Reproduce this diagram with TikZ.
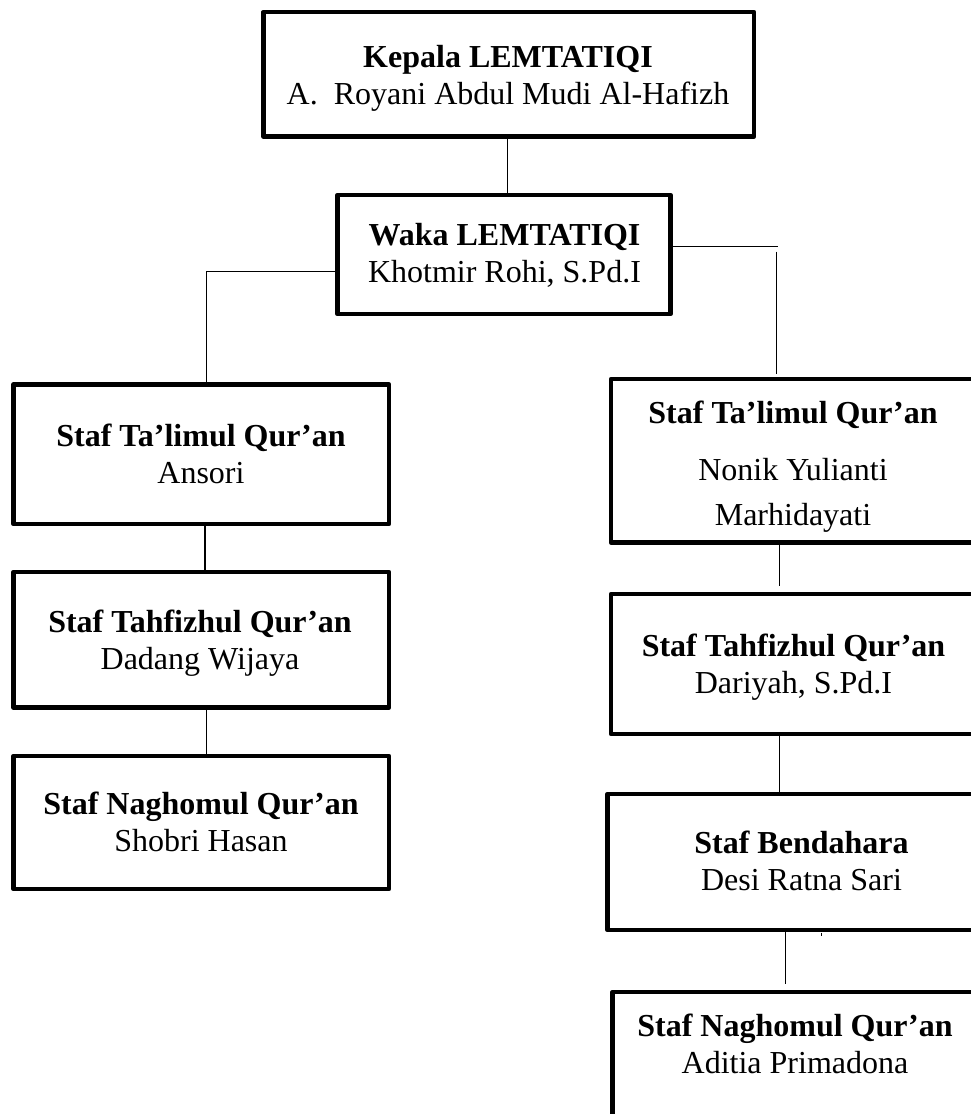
\documentclass[tikz,border=0pt]{standalone}
\usepackage{fontspec}
\setmainfont{Liberation Serif}
\begin{document}
\begin{tikzpicture}[x=1pt,y=-1pt,
  box/.style={draw=black,line width=4.8pt,line join=round,inner sep=0pt},
  txt/.style={align=center,inner sep=0pt,font=\fontsize{32}{37}\selectfont},
  conn/.style={draw=black,line width=1.3pt}]
\useasboundingbox (0,0) rectangle (971,1114);
\fill[white] (0,0) rectangle (971,1114);
\clip (0,0) rectangle (971,1114);

% boxes
\node[box,minimum width=490.5pt,minimum height=124.5pt] (top)  at (508.75,74.25) {};
\node[box,minimum width=333pt,minimum height=119pt]     (waka) at (504,254.5) {};
\node[box,minimum width=375.5pt,minimum height=139.5pt] (l1)   at (201.25,454.25) {};
\node[box,minimum width=375.5pt,minimum height=135.5pt] (l2)   at (201.25,639.75) {};
\node[box,minimum width=375.5pt,minimum height=133pt]   (l3)   at (201.25,822.5) {};
\node[box,minimum width=366pt,minimum height=163.5pt]   (r1)   at (794,460.75) {};
\node[box,minimum width=366pt,minimum height=140pt]     (r2)   at (794,664) {};
\node[box,minimum width=388pt,minimum height=136pt]     (r3)   at (801.5,862) {};
\node[box,minimum width=366pt,minimum height=140pt]     (r4)   at (795.5,1062) {};

% texts
\node[txt] (ttop)  at (508,78.5)  {\strut\textbf{Kepala LEMTATIQI}\\A.\ \ Royani Abdul Mudi Al-Hafizh\strut};
\node[txt] (twaka) at (504.5,256.5) {\strut\textbf{Waka LEMTATIQI}\\Khotmir Rohi, S.Pd.I\strut};
\node[txt] (tl1)   at (201,458)   {\strut\textbf{Staf Ta’limul Qur’an}\\Ansori\strut};
\node[txt] (tl2)   at (200,643.5) {\strut\textbf{Staf Tahfizhul Qur’an}\\Dadang Wijaya\strut};
\node[txt] (tl3)   at (201,826)   {\strut\textbf{Staf Naghomul Qur’an}\\Shobri Hasan\strut};
\node[txt] (tr1)   at (793,467)   {\strut\textbf{Staf Ta’limul Qur’an}\\[20pt]Nonik Yulianti\\[8pt]Marhidayati\strut};
\node[txt] (tr2)   at (793.5,668) {\strut\textbf{Staf Tahfizhul Qur’an}\\Dariyah, S.Pd.I\strut};
\node[txt] (tr3)   at (801.5,865) {\strut\textbf{Staf Bendahara}\\Desi Ratna Sari\strut};
\node[txt] (tr4)   at (795,1047.5) {\strut\textbf{Staf Naghomul Qur’an}\\Aditia Primadona\strut};

% helper coordinates
\coordinate (xa) at (507.3,0);
\coordinate (ya) at (0,271.5);
\coordinate (xb) at (206.7,0);
\coordinate (yb) at (0,246.5);
\coordinate (xc) at (778.3,0);
\coordinate (xe) at (205,0);
\coordinate (xf) at (779.3,0);
\coordinate (xg) at (785.5,0);
\coordinate (r0a) at (776.7,251.7);
\coordinate (r0b) at (776.7,374);
\coordinate (r12end) at (779.3,586);
\coordinate (r34end) at (785.5,984);
\coordinate (tick1) at (821.7,932.5);
\coordinate (tick2) at (821.7,935.5);

% connectors
\draw[conn] (xa |- top.south) -- (xa |- waka.north);
\draw[conn] (waka.west |- ya) -| (xb |- l1.north);
\draw[conn] (waka.east |- yb) -- (xc |- yb);
\draw[conn] (r0a) -- (r0b);
\draw[conn] (xe |- l1.south) -- (xe |- l2.north);
\draw[conn] (xb |- l2.south) -- (xb |- l3.north);
\draw[conn] (xf |- r1.south) -- (r12end);
\draw[conn] (xf |- r2.south) -- (xf |- r3.north);
\draw[conn] (xg |- r3.south) -- (r34end);
\draw[conn,line width=1pt] (tick1) -- (tick2);
\end{tikzpicture}
\end{document}
